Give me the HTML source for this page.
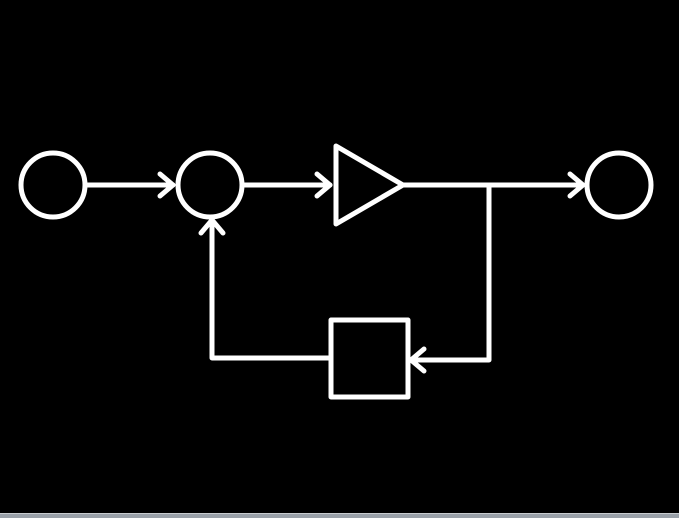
<!DOCTYPE html>
<html><head><style>
html,body{margin:0;padding:0;background:#000;width:679px;height:518px;overflow:hidden}
</style></head><body>
<svg width="679" height="518" viewBox="0 0 679 518" xmlns="http://www.w3.org/2000/svg">
<rect width="679" height="518" fill="#000"/>
<rect x="0" y="513" width="679" height="5" fill="#9aa1a9"/>
<rect x="0" y="513" width="679" height="1" fill="#c8ccd0"/>
<g fill="none" stroke="#fff" stroke-width="5" stroke-linecap="round" stroke-linejoin="round">
<circle cx="53" cy="185" r="32"/>
<circle cx="210" cy="185" r="32"/>
<circle cx="619" cy="185" r="32"/>
<polygon points="336,146 336,224 403,185"/>
<rect x="331" y="320" width="77" height="77"/>
<line x1="86" y1="185" x2="173" y2="185"/>
<polyline points="160,174 173,185 160,196"/>
<line x1="243" y1="185" x2="330" y2="185"/>
<polyline points="317,174 330,185 317,196"/>
<line x1="403" y1="185" x2="583" y2="185"/>
<polyline points="570,174 583,185 570,196"/>
<polyline points="489,185 489,360 411,360"/>
<polyline points="424,349 411,360 424,371"/>
<polyline points="330,358 212,358 212,220"/>
<polyline points="201,233 212,220 223,233"/>
</g>
</svg>
</body></html>
